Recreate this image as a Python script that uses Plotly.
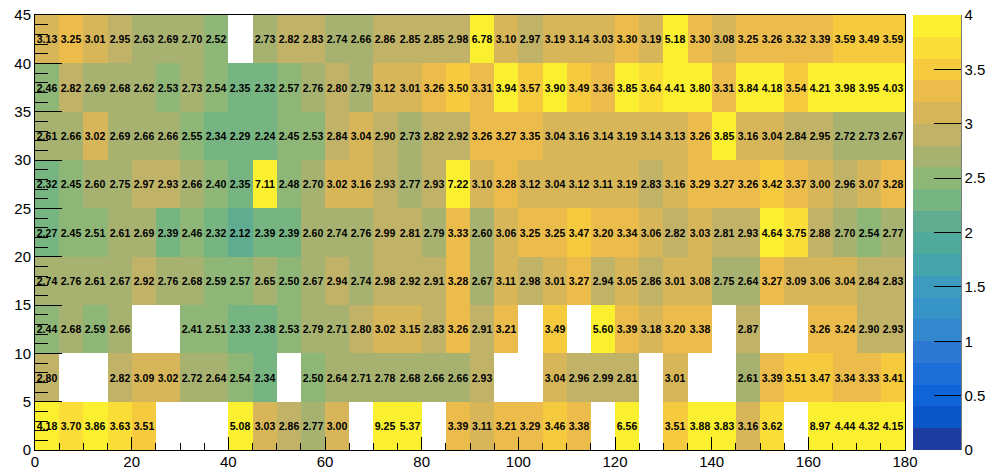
import numpy as np
import plotly.graph_objects as go

# Bin edges: x in 5-wide bins over [0, 180], y in 5-wide bins over [0, 45]
x_edges = list(range(0, 181, 5))
y_edges = list(range(0, 46, 5))

N = None  # empty bin

# One row per y bin (bottom to top), 36 x bins each
row_00_05 = [4.18, 3.70, 3.86, 3.63, 3.51, N, N, N, 5.08, 3.03, 2.86, 2.77, 3.00, N, 9.25, 5.37, N, 3.39,
             3.11, 3.21, 3.29, 3.46, 3.38, N, 6.56, N, 3.51, 3.88, 3.83, 3.16, 3.62, N, 8.97, 4.44, 4.32, 4.15]
row_05_10 = [2.80, N, N, 2.82, 3.09, 3.02, 2.72, 2.64, 2.54, 2.34, N, 2.50, 2.64, 2.71, 2.78, 2.68, 2.66, 2.66,
             2.93, N, N, 3.04, 2.96, 2.99, 2.81, N, 3.01, N, N, 2.61, 3.39, 3.51, 3.47, 3.34, 3.33, 3.41]
row_10_15 = [2.44, 2.68, 2.59, 2.66, N, N, 2.41, 2.51, 2.33, 2.38, 2.53, 2.79, 2.71, 2.80, 3.02, 3.15, 2.83, 3.26,
             2.91, 3.21, N, 3.49, N, 5.60, 3.39, 3.18, 3.20, 3.38, N, 2.87, N, N, 3.26, 3.24, 2.90, 2.93]
row_15_20 = [2.74, 2.76, 2.61, 2.67, 2.92, 2.76, 2.68, 2.59, 2.57, 2.65, 2.50, 2.67, 2.94, 2.74, 2.98, 2.92, 2.91, 3.28,
             2.67, 3.11, 2.98, 3.01, 3.27, 2.94, 3.05, 2.86, 3.01, 3.08, 2.75, 2.64, 3.27, 3.09, 3.06, 3.04, 2.84, 2.83]
row_20_25 = [2.27, 2.45, 2.51, 2.61, 2.69, 2.39, 2.46, 2.32, 2.12, 2.39, 2.39, 2.60, 2.74, 2.76, 2.99, 2.81, 2.79, 3.33,
             2.60, 3.06, 3.25, 3.25, 3.47, 3.20, 3.34, 3.06, 2.82, 3.03, 2.81, 2.93, 4.64, 3.75, 2.88, 2.70, 2.54, 2.77]
row_25_30 = [2.32, 2.45, 2.60, 2.75, 2.97, 2.93, 2.66, 2.40, 2.35, 7.11, 2.48, 2.70, 3.02, 3.16, 2.93, 2.77, 2.93, 7.22,
             3.10, 3.28, 3.12, 3.04, 3.12, 3.11, 3.19, 2.83, 3.16, 3.29, 3.27, 3.26, 3.42, 3.37, 3.00, 2.96, 3.07, 3.28]
row_30_35 = [2.61, 2.66, 3.02, 2.69, 2.66, 2.66, 2.55, 2.34, 2.29, 2.24, 2.45, 2.53, 2.84, 3.04, 2.90, 2.73, 2.82, 2.92,
             3.26, 3.27, 3.35, 3.04, 3.16, 3.14, 3.19, 3.14, 3.13, 3.26, 3.85, 3.16, 3.04, 2.84, 2.95, 2.72, 2.73, 2.67]
row_35_40 = [2.46, 2.82, 2.69, 2.68, 2.62, 2.53, 2.73, 2.54, 2.35, 2.32, 2.57, 2.76, 2.80, 2.79, 3.12, 3.01, 3.26, 3.50,
             3.31, 3.94, 3.57, 3.90, 3.49, 3.36, 3.85, 3.64, 4.41, 3.80, 3.31, 3.84, 4.18, 3.54, 4.21, 3.98, 3.95, 4.03]
row_40_45 = [3.13, 3.25, 3.01, 2.95, 2.63, 2.69, 2.70, 2.52, N, 2.73, 2.82, 2.83, 2.74, 2.66, 2.86, 2.85, 2.85, 2.98,
             6.78, 3.10, 2.97, 3.19, 3.14, 3.03, 3.30, 3.19, 5.18, 3.30, 3.08, 3.25, 3.26, 3.32, 3.39, 3.59, 3.49, 3.59]

rows = [row_00_05, row_05_10, row_10_15, row_15_20, row_20_25,
        row_25_30, row_30_35, row_35_40, row_40_45]

z = np.array([[np.nan if v is None else v for v in r] for r in rows], dtype=float)
labels = [["" if v is None else f"{v:.2f}" for v in r] for r in rows]

x_centers = [(a + b) / 2 for a, b in zip(x_edges[:-1], x_edges[1:])]
y_centers = [(a + b) / 2 for a, b in zip(y_edges[:-1], y_edges[1:])]

z_min, z_max = 0.0, 4.0

# 20 discrete contour colours (blue -> teal -> olive -> yellow), lowest level first
level_colors = [
    (30, 60, 160), (10, 85, 200), (15, 100, 215), (30, 110, 215), (45, 120, 210),
    (50, 135, 205), (55, 148, 200), (60, 155, 190), (70, 165, 170), (80, 170, 155),
    (95, 172, 145), (118, 180, 130), (142, 182, 118), (168, 178, 112), (192, 178, 102),
    (215, 182, 90), (235, 188, 75), (246, 202, 62), (250, 222, 55), (250, 240, 48),
]
n_levels = len(level_colors)

colorscale = []
for k, (r, g, b) in enumerate(level_colors):
    c = f"rgb({r},{g},{b})"
    colorscale.append([k / n_levels, c])
    colorscale.append([(k + 1) / n_levels, c])

fig = go.Figure(
    go.Heatmap(
        x=x_centers,
        y=y_centers,
        z=z,
        zmin=z_min,
        zmax=z_max,
        colorscale=colorscale,
        text=labels,
        texttemplate="%{text}",
        textfont=dict(family="Liberation Sans, Arial, sans-serif", size=10.5, color="black", weight="bold"),
        hoverongaps=False,
        colorbar=dict(
            x=1.0092,
            xanchor="left",
            y=0.5,
            yanchor="middle",
            len=1.0,
            lenmode="fraction",
            thickness=48,
            thicknessmode="pixels",
            outlinewidth=0,
            tickmode="linear",
            tick0=0,
            dtick=0.5,
            ticks="inside",
            ticklen=27,
            tickwidth=1,
            tickcolor="black",
            tickfont=dict(family="Liberation Sans, Arial, sans-serif", size=15, color="black"),
            xpad=0,
            ypad=0,
        ),
    )
)

axis_font = dict(family="Liberation Sans, Arial, sans-serif", size=15, color="black")

fig.update_xaxes(
    range=[0, 180],
    tickmode="linear",
    tick0=0,
    dtick=20,
    ticks="inside",
    ticklen=13,
    tickwidth=1,
    tickcolor="black",
    minor=dict(dtick=5, ticks="inside", ticklen=7, tickcolor="black", tickwidth=1),
    showline=True,
    linecolor="black",
    linewidth=1,
    mirror=True,
    showgrid=False,
    zeroline=False,
    tickfont=axis_font,
    ticklabelstandoff=-2,
)
fig.update_yaxes(
    range=[0, 45],
    tickmode="linear",
    tick0=0,
    dtick=5,
    ticks="inside",
    ticklen=27,
    tickwidth=1,
    tickcolor="black",
    minor=dict(dtick=1, ticks="inside", ticklen=13, tickcolor="black", tickwidth=1),
    showline=True,
    linecolor="black",
    linewidth=1,
    mirror=True,
    showgrid=False,
    zeroline=False,
    tickfont=axis_font,
)

# Axis line along the right edge of the colour bar
fig.add_shape(type="line", xref="paper", yref="paper",
              x0=1.0644, x1=1.0644, y0=0, y1=1,
              line=dict(color="black", width=1))

fig.update_layout(
    width=992,
    height=469,
    margin=dict(l=35, r=87, t=15, b=19, autoexpand=False),
    paper_bgcolor="white",
    plot_bgcolor="white",
)

fig.write_html("out.html")
